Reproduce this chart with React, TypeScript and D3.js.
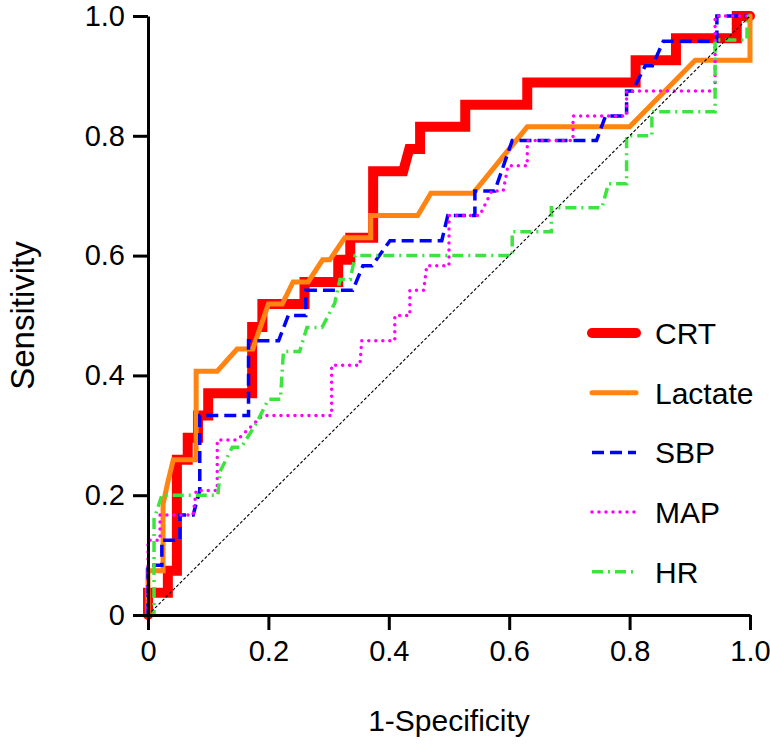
import React, { useEffect, useRef } from "react";
import * as d3 from "d3";

// ROC points as [1-specificity, sensitivity]
const crtPoints: [number, number][] = [
  [0, 0], [0, 0.037], [0.033, 0.037], [0.033, 0.074], [0.048, 0.074], [0.048, 0.259],
  [0.066, 0.259], [0.066, 0.296], [0.083, 0.296], [0.083, 0.333], [0.1, 0.333], [0.1, 0.37],
  [0.173, 0.37], [0.173, 0.481], [0.19, 0.481], [0.19, 0.519], [0.26, 0.519], [0.26, 0.556],
  [0.316, 0.556], [0.316, 0.593], [0.336, 0.593], [0.336, 0.63], [0.374, 0.63], [0.374, 0.741],
  [0.424, 0.741], [0.434, 0.778], [0.452, 0.778], [0.452, 0.815], [0.527, 0.815], [0.527, 0.852],
  [0.63, 0.852], [0.63, 0.889], [0.81, 0.889], [0.81, 0.926], [0.877, 0.926], [0.877, 0.963],
  [0.978, 0.963], [0.978, 1], [1, 1],
];

const lactatePoints: [number, number][] = [
  [0, 0], [0, 0.074], [0.025, 0.074], [0.025, 0.185], [0.033, 0.222], [0.042, 0.259],
  [0.08, 0.259], [0.08, 0.407], [0.115, 0.407], [0.148, 0.444], [0.174, 0.444], [0.2, 0.519],
  [0.223, 0.519], [0.241, 0.556], [0.266, 0.556], [0.29, 0.593], [0.302, 0.593], [0.327, 0.63],
  [0.37, 0.63], [0.37, 0.667], [0.448, 0.667], [0.47, 0.704], [0.54, 0.704], [0.63, 0.815],
  [0.8, 0.815], [0.909, 0.926], [1, 0.926], [1, 1],
];

const sbpPoints: [number, number][] = [
  [0, 0], [0, 0.083], [0.023, 0.083], [0.023, 0.125], [0.053, 0.125], [0.053, 0.167],
  [0.075, 0.167], [0.086, 0.208], [0.086, 0.333], [0.167, 0.333], [0.167, 0.458], [0.217, 0.458],
  [0.233, 0.5], [0.262, 0.5], [0.262, 0.542], [0.34, 0.542], [0.357, 0.583], [0.372, 0.583],
  [0.402, 0.625], [0.488, 0.625], [0.498, 0.667], [0.543, 0.667], [0.543, 0.708], [0.576, 0.708],
  [0.605, 0.792], [0.745, 0.792], [0.76, 0.833], [0.795, 0.833], [0.795, 0.875], [0.805, 0.875],
  [0.826, 0.917], [0.838, 0.917], [0.856, 0.958], [0.945, 0.958], [0.945, 1], [1, 1],
];

const mapPoints: [number, number][] = [
  [0, 0], [0, 0.125], [0.02, 0.125], [0.02, 0.167], [0.075, 0.167], [0.08, 0.208],
  [0.115, 0.208], [0.115, 0.292], [0.148, 0.292], [0.19, 0.333], [0.305, 0.333], [0.305, 0.417],
  [0.352, 0.417], [0.355, 0.458], [0.41, 0.458], [0.41, 0.5], [0.435, 0.5], [0.435, 0.542],
  [0.458, 0.542], [0.463, 0.583], [0.5, 0.583], [0.5, 0.667], [0.551, 0.667], [0.571, 0.708],
  [0.59, 0.708], [0.598, 0.75], [0.63, 0.75], [0.63, 0.792], [0.706, 0.792], [0.706, 0.833],
  [0.795, 0.833], [0.795, 0.875], [0.942, 0.875], [0.942, 1], [1, 1],
];

const hrPoints: [number, number][] = [
  [0, 0], [0.01, 0], [0.01, 0.16], [0.023, 0.2], [0.116, 0.2], [0.12, 0.24], [0.14, 0.28],
  [0.155, 0.28], [0.18, 0.32], [0.2, 0.36], [0.22, 0.36], [0.225, 0.44], [0.252, 0.44],
  [0.264, 0.48], [0.289, 0.48], [0.31, 0.52], [0.319, 0.56], [0.336, 0.56], [0.344, 0.6],
  [0.605, 0.6], [0.605, 0.64], [0.67, 0.64], [0.67, 0.68], [0.754, 0.68], [0.765, 0.72],
  [0.795, 0.72], [0.795, 0.8], [0.837, 0.8], [0.837, 0.84], [0.942, 0.84], [0.942, 0.96],
  [0.995, 0.96], [0.995, 1], [1, 1],
];

const seriesNames = ["CRT", "Lactate", "SBP", "MAP", "HR"];
const seriesPoints = [crtPoints, lactatePoints, sbpPoints, mapPoints, hrPoints];
const axisTicks = [0, 0.2, 0.4, 0.6, 0.8, 1.0];

const styles = [
  { color: "#ff0000", width: 10, dash: null, cap: "round" },
  { color: "#ff8411", width: 5, dash: null, cap: "round" },
  { color: "#0000ff", width: 3.5, dash: "12,6", cap: "butt" },
  { color: "#ff00ff", width: 3.5, dash: "0,7", cap: "round" },
  { color: "#3ee43e", width: 3.5, dash: "11,5,2,5", cap: "butt" },
];

const W = 770;
const H = 753;

export default function App() {
  const ref = useRef<SVGSVGElement | null>(null);

  useEffect(() => {
    const svg = d3.select(ref.current);
    svg.selectAll("*").remove();

    const x = d3.scaleLinear().domain([0, 1]).range([148, 750]);
    const y = d3.scaleLinear().domain([0, 1]).range([615, 16]);
    const font = "'Liberation Sans', Arial, sans-serif";
    const fmt = (d: number) => (d === 0 ? "0" : d3.format(".1f")(d));

    const line = d3
      .line<[number, number]>()
      .x((d) => x(d[0]))
      .y((d) => y(d[1]));

    // curves
    seriesPoints.forEach((pts, i) => {
      const s = styles[i];
      svg
        .append("path")
        .attr("d", line(pts))
        .attr("fill", "none")
        .attr("stroke", s.color)
        .attr("stroke-width", s.width)
        .attr("stroke-linejoin", "miter")
        .attr("stroke-linecap", s.cap)
        .attr("stroke-dasharray", s.dash);
    });

    // reference diagonal
    svg
      .append("line")
      .attr("x1", x(0))
      .attr("y1", y(0))
      .attr("x2", x(1))
      .attr("y2", y(1))
      .attr("stroke", "#000")
      .attr("stroke-width", 1.1)
      .attr("stroke-dasharray", "3,2");

    // axes
    const xAxis = svg
      .append("g")
      .attr("transform", `translate(0,${y(0)})`)
      .call(d3.axisBottom(x).tickValues(axisTicks).tickFormat(fmt as any).tickSize(15).tickSizeOuter(0).tickPadding(10));
    const yAxis = svg
      .append("g")
      .attr("transform", `translate(${x(0)},0)`)
      .call(d3.axisLeft(y).tickValues(axisTicks).tickFormat(fmt as any).tickSize(15).tickSizeOuter(0).tickPadding(8));

    [xAxis, yAxis].forEach((g) => {
      g.select(".domain").attr("stroke", "#000").attr("stroke-width", 3);
      g.selectAll(".tick line").attr("stroke", "#000").attr("stroke-width", 3);
      g.selectAll(".tick text")
        .attr("fill", "#000")
        .style("font-family", font)
        .style("font-size", "29px");
    });

    // axis titles
    svg
      .append("text")
      .attr("x", (x(0) + x(1)) / 2)
      .attr("y", 731)
      .attr("text-anchor", "middle")
      .style("font-family", font)
      .style("font-size", "30px")
      .text("1-Specificity");

    svg
      .append("text")
      .attr("transform", `translate(34,${(y(0) + y(1)) / 2}) rotate(-90)`)
      .attr("text-anchor", "middle")
      .style("font-family", font)
      .style("font-size", "33px")
      .text("Sensitivity");

    // legend
    const legend = svg.append("g");
    seriesNames.forEach((name, i) => {
      const s = styles[i];
      const ly = 333 + i * 59.7;
      legend
        .append("line")
        .attr("x1", 592)
        .attr("x2", 636)
        .attr("y1", ly)
        .attr("y2", ly)
        .attr("stroke", s.color)
        .attr("stroke-width", s.width)
        .attr("stroke-linecap", s.cap)
        .attr("stroke-dasharray", s.dash);
      legend
        .append("text")
        .attr("x", 655)
        .attr("y", ly + 11)
        .style("font-family", font)
        .style("font-size", "30px")
        .text(name);
    });
  }, []);

  return (
    <>
      <style>{"body{margin:0}"}</style>
      <svg ref={ref} width={W} height={H} style={{ display: "block", background: "#fff" }} />
    </>
  );
}
